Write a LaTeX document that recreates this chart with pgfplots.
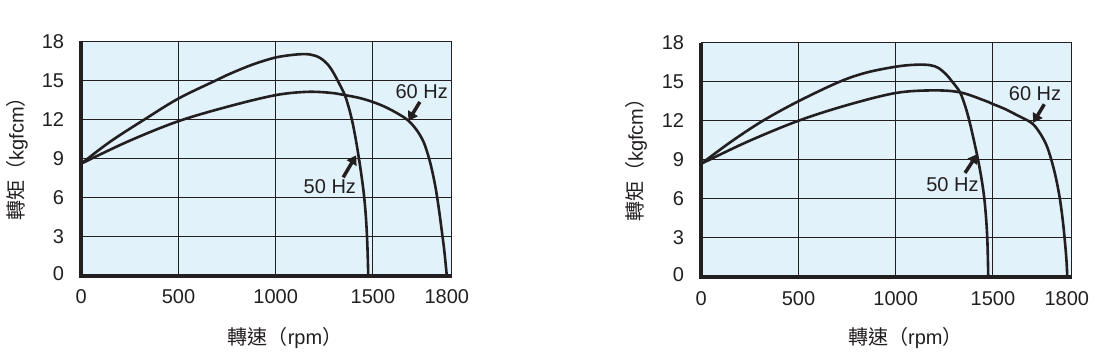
\documentclass[border=0pt]{standalone}
\usepackage{fontspec}
\setmainfont{Liberation Sans}
\newfontfamily\cjk{Noto Sans CJK TC}
\usepackage{pgfplots}
\pgfplotsset{compat=1.18}
\usetikzlibrary{arrows.meta}
\definecolor{bgblue}{RGB}{225,242,251}
\definecolor{ink}{RGB}{35,31,32}

\pgfplotsset{panel/.style={
  scale only axis, width=370.4pt, height=234.4pt,
  anchor=south west,
  xmin=0, xmax=1820, ymin=0, ymax=18,
  x coord trafo/.code={\pgfmathparse{##1+0.26667*max(##1-1500,0)}},
  xtick={0,500,1000,1500}, xticklabels={0,500,1000,1500},
  extra x ticks={1800}, extra x tick labels={1800},
  extra x tick style={grid=none},
  ytick={0,3,6,9,12,15,18},
  yticklabels={\raisebox{5pt}{0},3,6,9,12,15,18},
  major tick length=0pt,
  grid=major, grid style={ink, line width=0.9pt},
  axis line style={ink, line width=0.9pt},
  axis background/.style={fill=bgblue},
  tick label style={font=\fontsize{20}{23}\selectfont, text=ink, inner sep=0pt},
  xticklabel style={anchor=north, yshift=-14pt},
  yticklabel style={anchor=east, xshift=-17pt},
  label style={font=\fontsize{20}{23}\selectfont, text=ink, inner sep=0pt},
  clip=false,
  after end axis/.code={\draw[ink, line width=4pt] (rel axis cs:0,1) -- (rel axis cs:0,0) -- (rel axis cs:1,0);},
}}
\tikzset{curve/.style={ink, line width=2.6pt, smooth, tension=0.55},
  harrow/.style={ink, line width=3.5pt, -{Triangle[length=9pt,width=11pt]}},
  hz/.style={font=\fontsize{20}{23}\selectfont, text=ink, inner sep=0pt}}

\begin{document}
\begin{tikzpicture}
\path (0pt,0pt) rectangle (1097pt,357pt);
% ---------- left panel ----------
\begin{axis}[panel, at={(81.3pt,81.4pt)},
  xlabel={{\cjk 轉速（}rpm{\cjk ）}},
  ylabel={{\cjk 轉矩（}kgfcm{\cjk ）}},
  xlabel style={at={(axis description cs:0.55,-0.266)}, anchor=center},
  ylabel style={at={(axis description cs:-0.173,0.52)}, anchor=center}]
\addplot[curve] coordinates {
(0,8.6) (150,10.3) (326,12.0) (500,13.6) (694,15.0) (765,15.5) (880,16.2)
(1000,16.75) (1108,16.98) (1176,16.98) (1228,16.72) (1271,16.16) (1300,15.5)
(1330,14.65) (1356,13.85) (1378,12.8) (1396,11.7) (1412,10.45) (1427,9.1)
(1442,7.6) (1454,6.2) (1463,4.7) (1469,3.2) (1473,1.7) (1476,0)};
\addplot[curve] coordinates {
(0,8.6) (240,10.3) (500,11.86) (765,13.02) (1000,13.86) (1160,14.11)
(1280,14.04) (1356,13.86) (1434,13.63) (1500,13.33) (1549,12.96) (1603,12.42)
(1644,11.9) (1678,11.17) (1705,10.3) (1725,9.2) (1740,8.1) (1755,6.7)
(1768,5.1) (1780,3.4) (1790,1.9) (1800,0)};
\node[hz] at (rel axis cs:0.919,0.784) {60 Hz};
\node[hz] at (rel axis cs:0.671,0.381) {50 Hz};
\draw[harrow] (rel axis cs:0.914,0.741) -- (rel axis cs:0.883,0.660);
\draw[harrow] (rel axis cs:0.707,0.419) -- (rel axis cs:0.742,0.513);
\end{axis}
% ---------- right panel ----------
\begin{axis}[panel, at={(701.3pt,80pt)},
  xlabel={{\cjk 轉速（}rpm{\cjk ）}},
  ylabel={{\cjk 轉矩（}kgfcm{\cjk ）}},
  xlabel style={at={(axis description cs:0.551,-0.259)}, anchor=center},
  ylabel style={at={(axis description cs:-0.175,0.52)}, anchor=center}]
\addplot[curve] coordinates {
(0,8.7) (154,10.4) (317,12.0) (500,13.5) (712,15.0) (850,15.7) (1000,16.15)
(1100,16.3) (1176,16.27) (1220,16.05) (1260,15.55) (1288,15.05) (1331,14.18)
(1360,13.0) (1382,11.8) (1405,10.3) (1425,8.9) (1443,7.4) (1456,6.0)
(1465,4.5) (1471,3.0) (1474,1.5) (1476,0)};
\addplot[curve] coordinates {
(0,8.7) (236,10.38) (500,12.0) (750,13.2) (1000,14.13) (1192,14.33)
(1331,14.18) (1459,13.54) (1500,13.28) (1549,12.9) (1603,12.38) (1658,11.82)
(1691,11.05) (1718,10.1) (1738,8.95) (1756,7.6) (1772,6.0) (1784,4.3)
(1793,2.6) (1799,1.2) (1802,0)};
\node[hz] at (rel axis cs:0.901,0.784) {60 Hz};
\node[hz] at (rel axis cs:0.678,0.396) {50 Hz};
\draw[harrow] (rel axis cs:0.926,0.737) -- (rel axis cs:0.896,0.658);
\draw[harrow] (rel axis cs:0.712,0.444) -- (rel axis cs:0.745,0.524);
\end{axis}
\end{tikzpicture}
\end{document}
